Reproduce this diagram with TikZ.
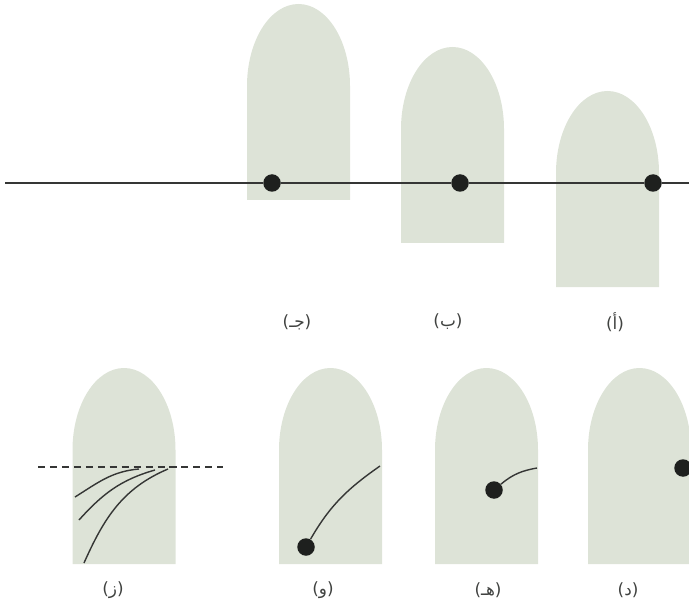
\documentclass[tikz,border=0pt]{standalone}
\usepackage{fontspec}
\newfontfamily\arabicfont[Script=Arabic]{DejaVu Sans}
\newfontfamily\parenfont{DejaVu Sans}
\TeXXeTstate=1
\definecolor{bodygreen}{RGB}{221,227,215}
\definecolor{inkdark}{RGB}{30,32,30}
\tikzstyle{dot}=[circle, fill=inkdark, inner sep=0pt, minimum size=17.5*0.025cm]
\tikzstyle{trail}=[line width=1pt, draw=inkdark!90]
\tikzstyle{labelsty}=[font=\parenfont\fontsize{12}{14}\selectfont, text=inkdark!85, inner sep=0pt]
\tikzstyle{bodyfill}=[fill=bodygreen]
% body outline: left edge x, bottom y
\newcommand{\bodyat}[2]{\fill[bodyfill] (#1,#2) -- (#1,#2+114) arc[start angle=180, end angle=0, x radius=51.5, y radius=82] -- (#1+103,#2) -- cycle;}
\newcommand{\arlabel}[1]{({\arabicfont\beginR #1\endR})}

\begin{document}
\begin{tikzpicture}[x=0.025cm, y=0.025cm]
	\useasboundingbox (0,0) rectangle (689,613);
	\clip (0,0) rectangle (689,613);
	
	% upper row
	\bodyat{247}{413}
	\bodyat{401}{370}
	\bodyat{556}{326}
	
	\coordinate (lineL) at (5,430);
	\coordinate (lineR) at (689,430);
	\node[dot] (dC) at (272,430) {};
	\node[dot] (dB) at (460,430) {};
	\node[dot] (dA) at (653,430) {};
	\draw[trail] (lineL) -- (dC) -- (dB) -- (dA) -- (lineR);
	
	\node[labelsty] (lC) at (297,291) {\arlabel{جـ}};
	\node[labelsty] (lB) at (448,291) {\arlabel{ب}};
	\node[labelsty] (lA) at (615,291) {\arlabel{أ}};
	
	% lower row
	\bodyat{72.5}{49}
	\bodyat{279}{49}
	\bodyat{435}{49}
	\bodyat{588}{49}
	
	\node[dot] (dD) at (683,145) {};
	
	\node[dot] (dE) at (494,123) {};
	\coordinate (eE) at (537,145);
	\draw[trail] (dE) to[out=40, in=190] (eE);
	
	\node[dot] (dF) at (306,66) {};
	\coordinate (eF) at (380,147);
	\draw[trail] (dF) to[out=60, in=215] (eF);
	
	\coordinate (hL) at (38,146);
	\coordinate (hR) at (223,146);
	\draw[trail, dash pattern=on 5pt off 3.5pt] (hL) -- (hR);
	\coordinate (s1) at (75,116);  \coordinate (t1) at (139,144);
	\coordinate (s2) at (79,93);   \coordinate (t2) at (155,143);
	\coordinate (s3) at (84,50);   \coordinate (t3) at (168,144);
	\draw[trail] (s1) to[out=32, in=185] (t1);
	\draw[trail] (s2) to[out=48, in=196] (t2);
	\draw[trail] (s3) to[out=66, in=203] (t3);
	
	\node[labelsty] (lG) at (113,23) {\arlabel{ز}};
	\node[labelsty] (lF) at (323,23) {\arlabel{و}};
	\node[labelsty] (lE) at (488,23) {\arlabel{هـ}};
	\node[labelsty] (lD) at (628,23) {\arlabel{د}};
\end{tikzpicture}
\end{document}
